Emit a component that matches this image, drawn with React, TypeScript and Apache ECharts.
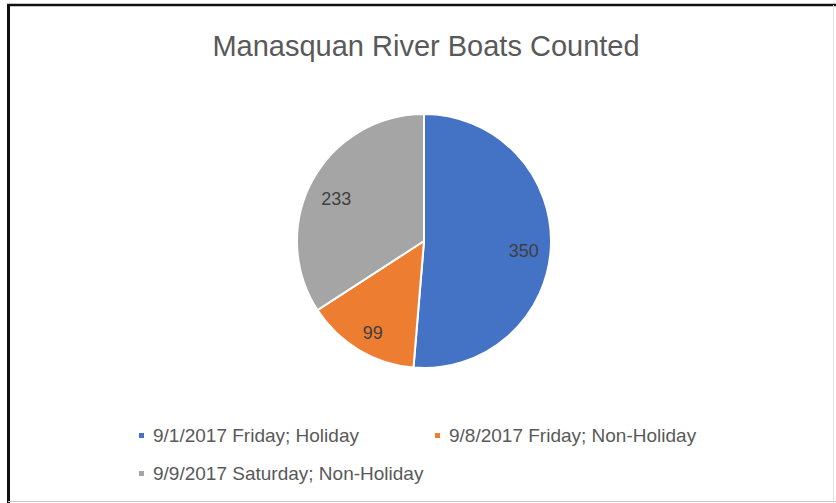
import React, { useEffect, useRef } from "react";
import * as echarts from "echarts";

const titleText = "Manasquan River Boats Counted";
const categories = [
  "9/1/2017 Friday; Holiday",
  "9/8/2017 Friday; Non-Holiday",
  "9/9/2017 Saturday; Non-Holiday",
];
const boatCounts = [350, 99, 233];
const sliceColors = ["#4472C4", "#ED7D31", "#A5A5A5"];

const W = 836;
const H = 503;
const CX = 424;
const CY = 241;
const R = 127;
const FONT = "'Liberation Sans', Arial, sans-serif";

export default function App() {
  const ref = useRef<HTMLDivElement>(null);
  useEffect(() => {
    if (!ref.current) return;
    const chart = echarts.init(ref.current, null, { renderer: "svg" });
    const legendBase = {
      orient: "horizontal" as const,
      itemWidth: 7,
      itemHeight: 7,
      icon: "rect",
      selectedMode: false,
      padding: 0,
      textStyle: {
        fontFamily: FONT,
        fontSize: 19,
        color: "#595959",
        padding: [0, 0, 0, 3],
      },
    };
    chart.setOption({
      animation: false,
      backgroundColor: "#ffffff",
      color: sliceColors,
      title: {
        text: titleText,
        left: 426,
        textAlign: "center",
        top: 31,
        padding: 0,
        textStyle: {
          fontFamily: FONT,
          fontSize: 29,
          fontWeight: "normal",
          color: "#595959",
        },
      },
      legend: [
        { ...legendBase, data: [categories[0]], left: 137, top: 426 },
        { ...legendBase, data: [categories[1]], left: 433, top: 426 },
        { ...legendBase, data: [categories[2]], left: 137, top: 464 },
      ],
      graphic: [
        {
          type: "line",
          shape: { x1: 7, y1: 5, x2: W, y2: 5 },
          style: { stroke: "#111111", lineWidth: 2.5 },
          z: 100,
        },
        {
          type: "line",
          shape: { x1: 8.5, y1: 4, x2: 8.5, y2: H },
          style: { stroke: "#111111", lineWidth: 3 },
          z: 100,
        },
        {
          type: "line",
          shape: { x1: 8, y1: 501.5, x2: W, y2: 501.5 },
          style: { stroke: "#c8c8c8", lineWidth: 1 },
          z: 100,
        },
        {
          type: "line",
          shape: { x1: 833.5, y1: 5, x2: 833.5, y2: H },
          style: { stroke: "#e0e0e0", lineWidth: 1 },
          z: 100,
        },
      ],
      series: [
        {
          type: "pie",
          center: [CX, CY],
          radius: [0, R],
          startAngle: 90,
          clockwise: true,
          avoidLabelOverlap: false,
          itemStyle: { borderColor: "#ffffff", borderWidth: 2 },
          label: {
            show: true,
            position: "inside",
            formatter: "{c}",
            fontFamily: FONT,
            fontSize: 18,
            color: "#404040",
          },
          labelLayout: (params: any) => {
            const r = params.labelRect;
            const lx = r.x + r.width / 2;
            const ly = r.y + r.height / 2;
            return { dx: (lx - CX) * 0.5, dy: (ly - CY) * 0.5 + 6 };
          },
          emphasis: { disabled: true },
          data: categories.map((name, i) => ({ name, value: boatCounts[i] })),
        },
      ],
    });
    return () => chart.dispose();
  }, []);
  return (
    <div
      ref={ref}
      style={{ position: "absolute", left: 0, top: 0, width: W, height: H }}
    />
  );
}
